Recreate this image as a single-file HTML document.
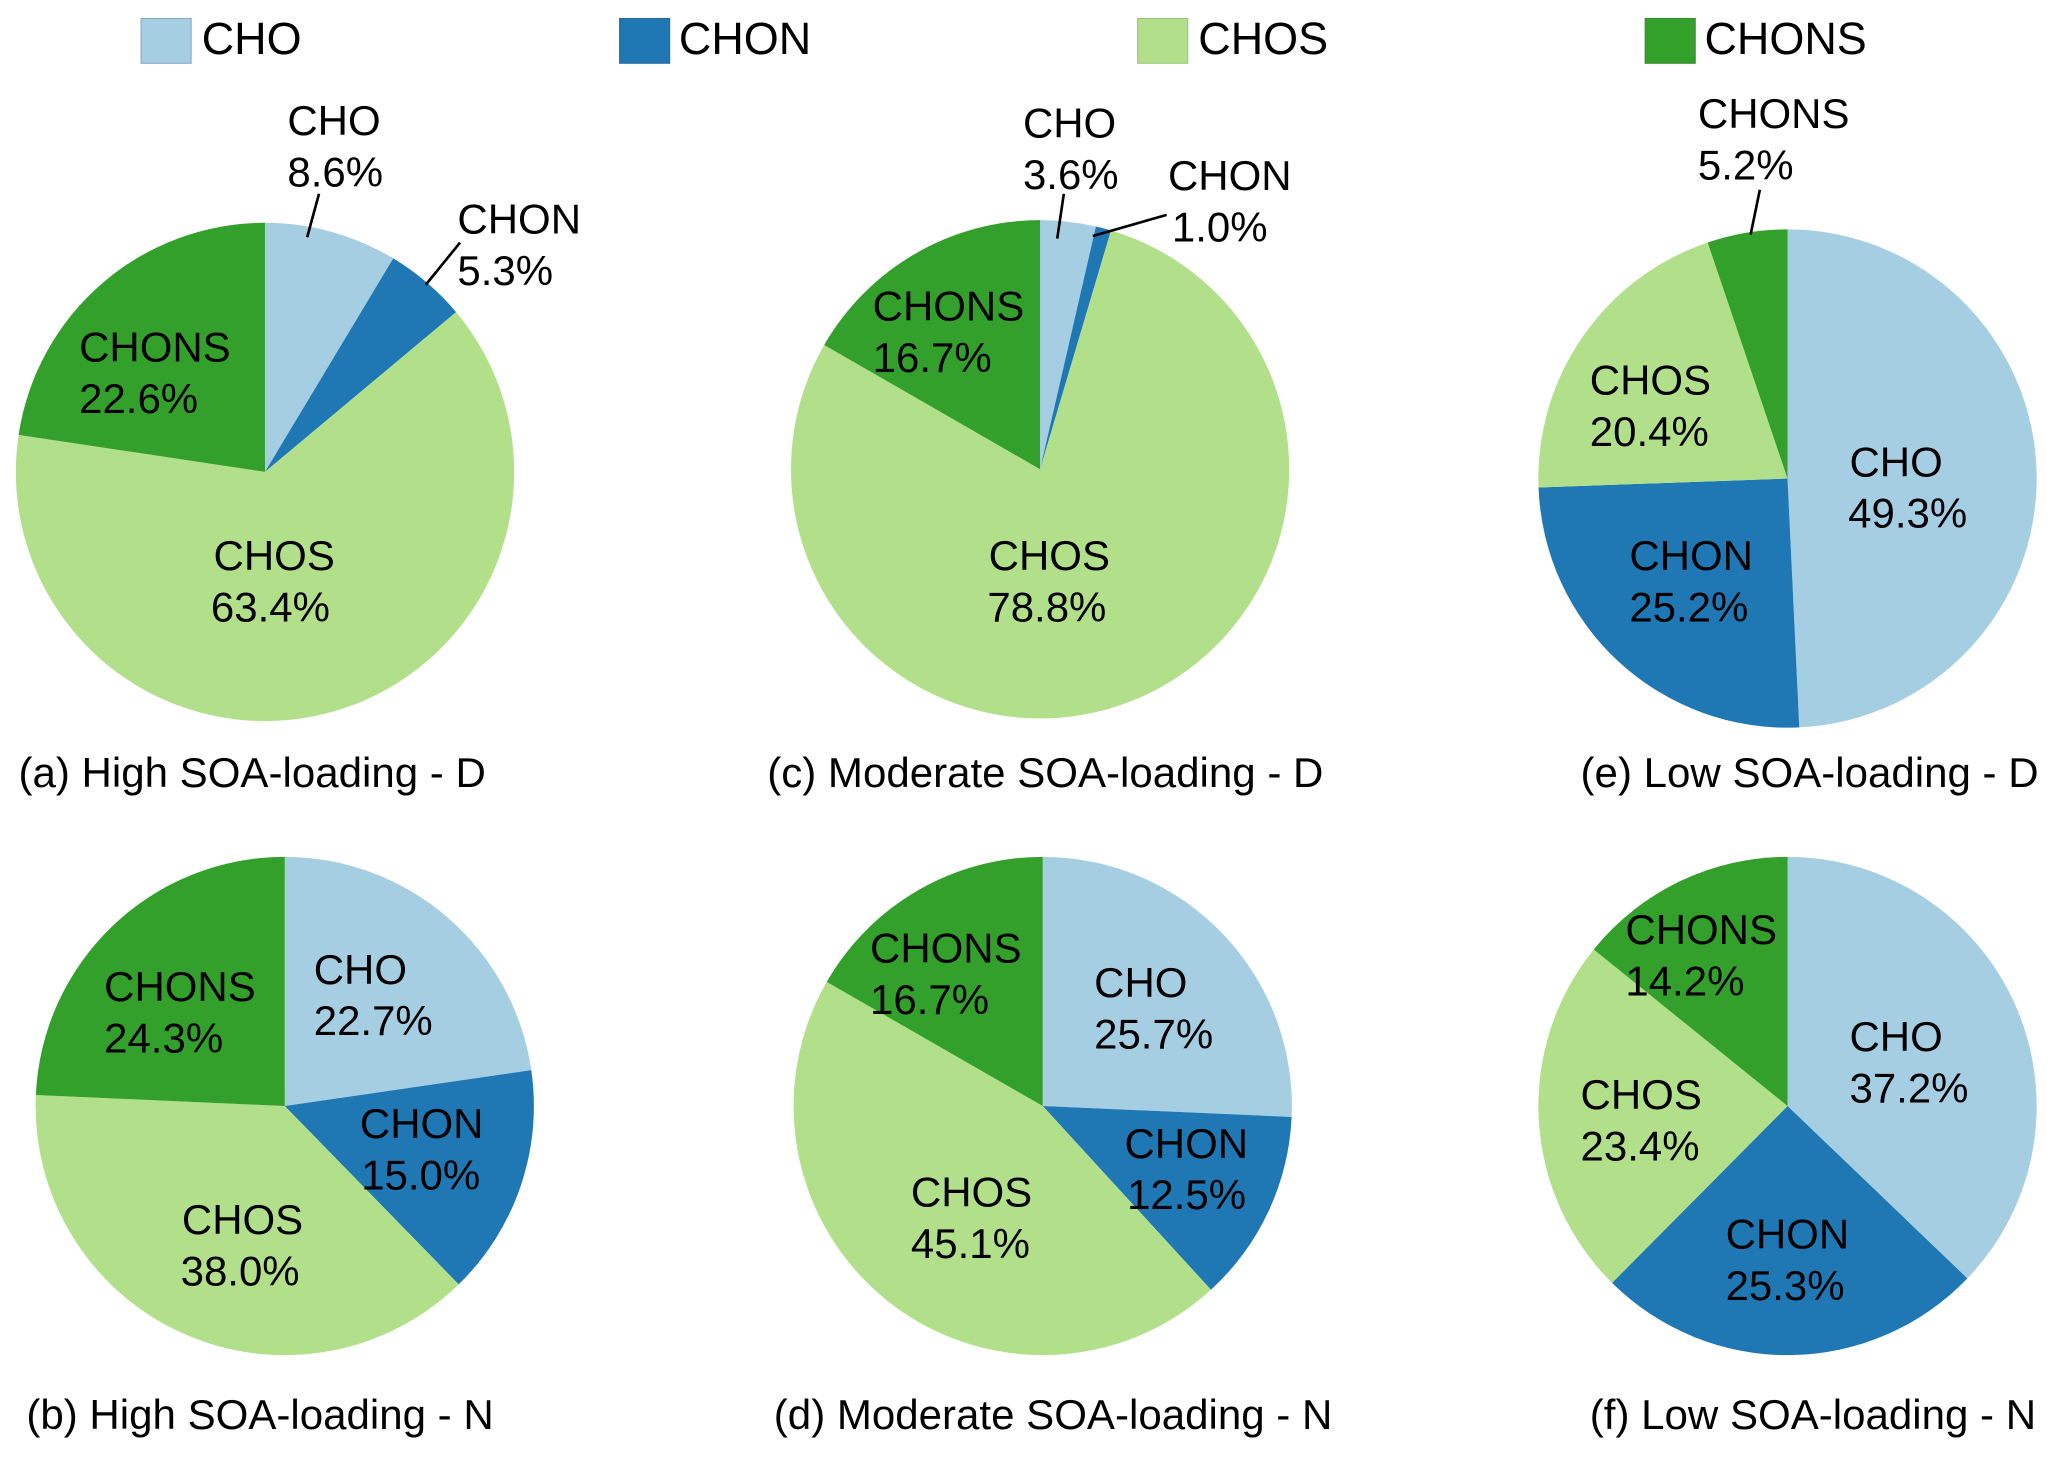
<!DOCTYPE html>
<html lang="en">
<head>
<meta charset="utf-8">
<title>Composition pies by SOA loading</title>
<style>
html,body{margin:0;padding:0;background:#fff;}
svg{display:block;width:2067px;height:1462px;}
text{font-family:"Liberation Sans",Arial,sans-serif;fill:#000;font-size:31.85px;}
.legend-text{font-size:34.1px;}
.caption{font-size:31.9px;}
.leader{stroke:#000;stroke-width:2;fill:none;}
</style>
</head>
<body>
<svg id="chart" xmlns="http://www.w3.org/2000/svg" viewBox="0 0 1568 1109.06">
  <g>
    <g>
      <rect x="107" y="14" width="38" height="34" fill="#a6cee3" stroke="#8aa9bd" stroke-width="0.8"/>
      <text class="legend-text" x="153" y="41">CHO</text>
    </g>
    <g>
      <rect x="470" y="14" width="38" height="34" fill="#1f78b4" stroke="#2a6a9c" stroke-width="0.8"/>
      <text class="legend-text" x="515" y="41">CHON</text>
    </g>
    <g>
      <rect x="863" y="14" width="38" height="34" fill="#b2df8a" stroke="#9cc47c" stroke-width="0.8"/>
      <text class="legend-text" x="909" y="41">CHOS</text>
    </g>
    <g>
      <rect x="1248" y="14" width="38" height="34" fill="#33a02c" stroke="#3a8a34" stroke-width="0.8"/>
      <text class="legend-text" x="1293" y="41">CHONS</text>
    </g>
  </g>
  <g id="slices"></g>
  <g>
    <line class="leader" x1="242" y1="147" x2="233" y2="180"/>
    <line class="leader" x1="349" y1="184" x2="323" y2="216"/>
    <line class="leader" x1="807" y1="147" x2="802" y2="181"/>
    <line class="leader" x1="885" y1="163" x2="829" y2="179"/>
    <line class="leader" x1="1335" y1="144" x2="1328" y2="178"/>
  </g>
  <g id="labels"></g>
  <g>
    <text class="caption" x="14" y="597">(a) High SOA-loading - D</text>
    <text class="caption" x="582" y="597">(c) Moderate SOA-loading - D</text>
    <text class="caption" x="1199" y="597">(e) Low SOA-loading - D</text>
    <text class="caption" x="20" y="1084">(b) High SOA-loading - N</text>
    <text class="caption" x="587" y="1084">(d) Moderate SOA-loading - N</text>
    <text class="caption" x="1206" y="1084">(f) Low SOA-loading - N</text>
  </g>
</svg>
<script>
const categories = ['CHO', 'CHON', 'CHOS', 'CHONS'];
const highDay = [8.6, 5.3, 63.4, 22.6];
const highNight = [22.7, 15.0, 38.0, 24.3];
const moderateDay = [3.6, 1.0, 78.8, 16.7];
const moderateNight = [25.7, 12.5, 45.1, 16.7];
const lowDay = [49.3, 25.2, 20.4, 5.2];
const lowNight = [37.2, 25.3, 23.4, 14.2];
const sliceColors = ['#a6cee3', '#1f78b4', '#b2df8a', '#33a02c'];

const NS = 'http://www.w3.org/2000/svg';
const sliceLayer = document.getElementById('slices');
const labelLayer = document.getElementById('labels');
const RADIUS = 189;

function angleOf(cumulative, total) {
  return (cumulative / total) * Math.PI * 2;
}
function pointAt(cx, cy, angle) {
  return [cx + RADIUS * Math.sin(angle), cy - RADIUS * Math.cos(angle)];
}
function drawPie(panel, values, cx, cy) {
  const total = values.reduce(function (a, b) { return a + b; }, 0);
  let running = 0;
  values.forEach(function (value, i) {
    const start = angleOf(running, total);
    running += value;
    const end = angleOf(running, total);
    const p0 = pointAt(cx, cy, start);
    const p1 = pointAt(cx, cy, end);
    const large = end - start > Math.PI ? 1 : 0;
    const path = document.createElementNS(NS, 'path');
    path.setAttribute('d', 'M' + cx + ' ' + cy + 'L' + p0[0] + ' ' + p0[1] +
      'A' + RADIUS + ' ' + RADIUS + ' 0 ' + large + ' 1 ' + p1[0] + ' ' + p1[1] + 'Z');
    path.setAttribute('fill', sliceColors[i]);
    
    
    sliceLayer.appendChild(path);
  });
}
function drawLabel(panel, values, i, x, y, x2) {
  const text = document.createElementNS(NS, 'text');
  
  
  const top = document.createElementNS(NS, 'tspan');
  top.setAttribute('x', x);
  top.setAttribute('y', y + 11.3);
  top.textContent = categories[i];
  const bottom = document.createElementNS(NS, 'tspan');
  bottom.setAttribute('x', x2);
  bottom.setAttribute('y', y + 50.3);
  bottom.textContent = values[i].toFixed(1) + '%';
  text.appendChild(top);
  text.appendChild(bottom);
  labelLayer.appendChild(text);
}

drawPie('a', highDay, 201, 358);
drawPie('c', moderateDay, 789, 356);
drawPie('e', lowDay, 1356, 363);
drawPie('b', highNight, 216, 839);
drawPie('d', moderateNight, 791, 839);
drawPie('f', lowNight, 1356, 839);

drawLabel('a', highDay, 0, 218, 91, 218);
drawLabel('a', highDay, 1, 347, 166, 347);
drawLabel('a', highDay, 2, 162, 421, 160);
drawLabel('a', highDay, 3, 60, 263, 60);

drawLabel('c', moderateDay, 0, 776, 93, 776);
drawLabel('c', moderateDay, 1, 886, 133, 889);
drawLabel('c', moderateDay, 2, 750, 421, 749);
drawLabel('c', moderateDay, 3, 662, 232, 662);

drawLabel('e', lowDay, 0, 1403, 350, 1402);
drawLabel('e', lowDay, 1, 1236, 421, 1236);
drawLabel('e', lowDay, 2, 1206, 288, 1206);
drawLabel('e', lowDay, 3, 1288, 86, 1288);

drawLabel('b', highNight, 0, 238, 735, 238);
drawLabel('b', highNight, 1, 273, 852, 274);
drawLabel('b', highNight, 2, 138, 925, 137);
drawLabel('b', highNight, 3, 79, 748, 79);

drawLabel('d', moderateNight, 0, 830, 745, 830);
drawLabel('d', moderateNight, 1, 853, 867, 855);
drawLabel('d', moderateNight, 2, 691, 904, 691);
drawLabel('d', moderateNight, 3, 660, 719, 660);

drawLabel('f', lowNight, 0, 1403, 786, 1403);
drawLabel('f', lowNight, 1, 1309, 936, 1309);
drawLabel('f', lowNight, 2, 1199, 830, 1199);
drawLabel('f', lowNight, 3, 1233, 705, 1233);
</script>
</body>
</html>
